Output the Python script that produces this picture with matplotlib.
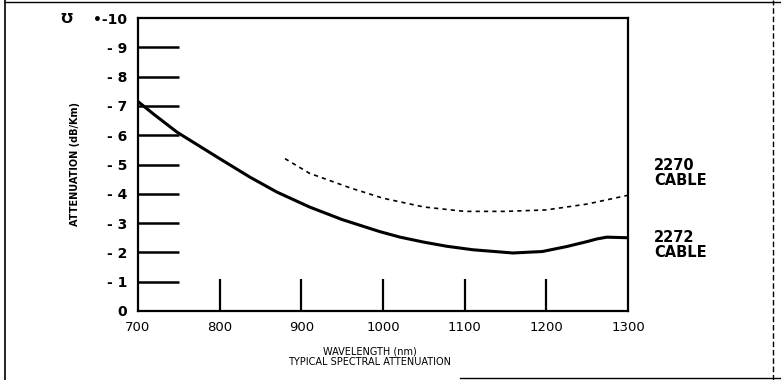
import matplotlib
matplotlib.use("Agg")
import matplotlib.pyplot as plt
from matplotlib.lines import Line2D

# Data
wl_2272 = [700, 720, 748, 800, 837, 870, 910, 950, 996, 1021, 1050, 1078, 1110,
           1159, 1195, 1225, 1250, 1262, 1274, 1300]
att_2272 = [7.15, 6.7, 6.1, 5.2, 4.57, 4.06, 3.55, 3.12, 2.71, 2.52, 2.35, 2.21, 2.09,
            1.98, 2.03, 2.2, 2.37, 2.46, 2.52, 2.5]
wl_2270 = [880, 910, 960, 1000, 1050, 1100, 1150, 1200, 1250, 1300]
att_2270 = [5.2, 4.7, 4.2, 3.85, 3.55, 3.4, 3.4, 3.45, 3.65, 3.95]
yticks = list(range(0, 11))
ytick_labels = ["0"] + ["- %d" % v for v in range(1, 10)] + ["\u2022-10"]
xticks = [700, 800, 900, 1000, 1100, 1200, 1300]
grid_y = list(range(1, 10))
grid_x = [800, 900, 1000, 1100, 1200]

fig = plt.figure(figsize=(7.81, 3.80), dpi=100)
ax = fig.add_axes([138/781, 1-311/380, (628-138)/781, (311-18)/380])
ax.set_xlim(700, 1300)
ax.set_ylim(0, 10)

for s in ax.spines.values():
    s.set_linewidth(1.6)
    s.set_color("black")

# short horizontal reference bars at left
for y in grid_y:
    ax.plot([700, 750], [y, y], color="black", lw=1.8, solid_capstyle="butt")
# short vertical bars at bottom
for x in grid_x:
    ax.plot([x, x], [0, 1.1], color="black", lw=1.6, solid_capstyle="butt")

ax.plot(wl_2272, att_2272, color="black", lw=2.2, solid_joinstyle="round")
ax.plot(wl_2270, att_2270, color="black", lw=1.2, ls=(0, (2.5, 2.5)))

ax.set_yticks(yticks)
ax.set_yticklabels(ytick_labels, fontsize=10, fontweight="bold")
ax.set_xticks(xticks)
ax.set_xticklabels([str(v) for v in xticks], fontsize=9.5)
ax.tick_params(length=0, pad=8)
ax.tick_params(axis="x", pad=7)

ax.set_ylabel("ATTENUATION (dB/Km)", fontsize=7, fontweight="bold", labelpad=9)

fig.text(370/781, 1-351/380, "WAVELENGTH (nm)", fontsize=7, ha="center", va="center")
fig.text(370/781, 1-362/380, "TYPICAL SPECTRAL ATTENUATION", fontsize=7, ha="center", va="center")

fig.text(654/781, 1-173/380, "2270\nCABLE", fontsize=10.5, fontweight="bold", ha="left", va="center", linespacing=0.95)
fig.text(654/781, 1-245/380, "2272\nCABLE", fontsize=10.5, fontweight="bold", ha="left", va="center", linespacing=0.95)

fig.text(67/781, 1-15/380, "\u03a9", fontsize=10, fontweight="bold", ha="center", va="center", rotation=180)

# outer scan border
fig.add_artist(Line2D([5/781, 5/781], [0, 1], color="black", lw=1.2, transform=fig.transFigure))
fig.add_artist(Line2D([5/781, 1], [1-2/380, 1-2/380], color="black", lw=1.0, transform=fig.transFigure))
fig.add_artist(Line2D([773/781, 773/781], [0, 1], color="black", lw=1.0, ls=(0, (4, 2)), transform=fig.transFigure))
fig.add_artist(Line2D([460/781, 1], [1-378/380, 1-378/380], color="black", lw=1.0, transform=fig.transFigure))

fig.savefig("out.png", dpi=100)
